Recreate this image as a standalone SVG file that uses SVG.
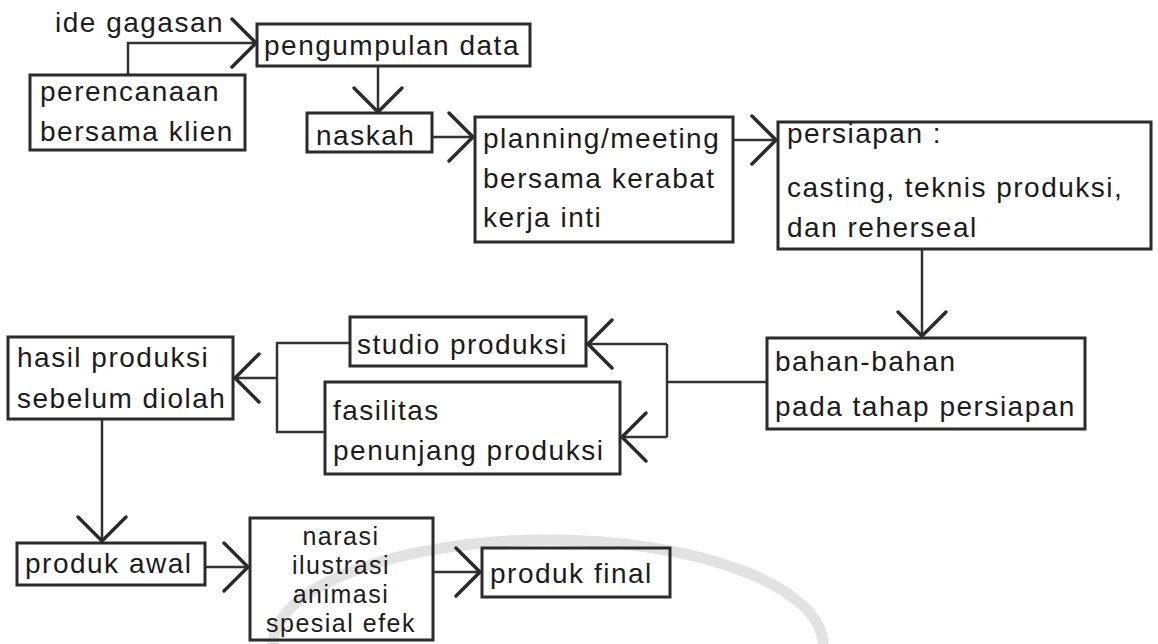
<svg xmlns="http://www.w3.org/2000/svg" width="1158" height="644" viewBox="0 0 1158 644">
<defs>
<style>
.box{fill:none;stroke:#2b2b2b;stroke-width:3}
.t{font-family:"Liberation Sans",Arial,sans-serif;font-size:28px;letter-spacing:1.5px;fill:#1c1c1c}
.s{font-size:25px}
.c{text-anchor:middle}
.ln{fill:none;stroke:#333;stroke-width:2.5}
.wm{fill:none;stroke:#e2e2e2;stroke-width:11}
</style>
<marker id="ah" markerUnits="userSpaceOnUse" markerWidth="60" markerHeight="60" viewBox="-30 -30 60 60" refX="0" refY="0" orient="auto" overflow="visible">
<path d="M -24 -24 L 0 0 L -24 24" fill="none" stroke="#2b2b2b" stroke-width="3.5" stroke-linecap="round"/>
</marker>
</defs>
<rect x="0" y="0" width="1158" height="644" fill="#fff"/>
<g id="watermark">
<ellipse class="wm" cx="548" cy="645" rx="275" ry="105"/>
</g>
<g id="connectors">
<polyline class="ln" points="128,75 128,43 256,43" marker-end="url(#ah)"/>
<line class="ln" x1="378" y1="66" x2="378" y2="112" marker-end="url(#ah)"/>
<line class="ln" x1="432" y1="137" x2="473" y2="137" marker-end="url(#ah)"/>
<line class="ln" x1="733" y1="140" x2="776" y2="140" marker-end="url(#ah)"/>
<line class="ln" x1="922" y1="249" x2="922" y2="336" marker-end="url(#ah)"/>
<line class="ln" x1="767" y1="382" x2="667" y2="382"/>
<line class="ln" x1="667" y1="344" x2="667" y2="437"/>
<line class="ln" x1="667" y1="344" x2="588" y2="344" marker-end="url(#ah)"/>
<line class="ln" x1="667" y1="437" x2="622" y2="437" marker-end="url(#ah)"/>
<polyline class="ln" points="350,343 277,343 277,432 325,432"/>
<line class="ln" x1="277" y1="378" x2="235" y2="378" marker-end="url(#ah)"/>
<line class="ln" x1="102" y1="419" x2="102" y2="541" marker-end="url(#ah)"/>
<line class="ln" x1="205" y1="567" x2="248" y2="567" marker-end="url(#ah)"/>
<line class="ln" x1="433" y1="572" x2="480" y2="572" marker-end="url(#ah)"/>
</g>
<g id="ide-gagasan">
<text class="t" x="55" y="32">ide gagasan</text>
</g>
<g id="pengumpulan-data">
<rect class="box" x="257" y="24" width="273" height="42"/>
<text class="t" x="264" y="55">pengumpulan data</text>
</g>
<g id="perencanaan">
<rect class="box" x="30" y="75" width="215" height="75"/>
<text class="t" x="40" y="101">perencanaan</text>
<text class="t" x="40" y="141">bersama klien</text>
</g>
<g id="naskah">
<rect class="box" x="307" y="113" width="125" height="39"/>
<text class="t" x="316" y="145">naskah</text>
</g>
<g id="planning">
<rect class="box" x="475" y="117" width="258" height="125"/>
<text class="t" x="483" y="148">planning/meeting</text>
<text class="t" x="483" y="188">bersama kerabat</text>
<text class="t" x="483" y="227">kerja inti</text>
</g>
<g id="persiapan">
<rect class="box" x="778" y="122" width="373" height="127"/>
<text class="t" x="787" y="143">persiapan :</text>
<text class="t" x="787" y="197">casting, teknis produksi,</text>
<text class="t" x="787" y="237">dan reherseal</text>
</g>
<g id="bahan">
<rect class="box" x="767" y="338" width="318" height="91"/>
<text class="t" x="775" y="371">bahan-bahan</text>
<text class="t" x="775" y="416">pada tahap persiapan</text>
</g>
<g id="studio">
<rect class="box" x="350" y="317" width="236" height="49"/>
<text class="t" x="357" y="354">studio produksi</text>
</g>
<g id="fasilitas">
<rect class="box" x="325" y="382" width="295" height="92"/>
<text class="t" x="333" y="420">fasilitas</text>
<text class="t" x="333" y="460">penunjang produksi</text>
</g>
<g id="hasil">
<rect class="box" x="8" y="337" width="225" height="82"/>
<text class="t" x="17" y="367">hasil produksi</text>
<text class="t" x="17" y="408">sebelum diolah</text>
</g>
<g id="produk-awal">
<rect class="box" x="17" y="543" width="188" height="42"/>
<text class="t" x="25" y="573">produk awal</text>
</g>
<g id="narasi">
<rect class="box" x="250" y="518" width="183" height="122"/>
<text class="t s c" x="341" y="545">narasi</text>
<text class="t s c" x="341" y="574">ilustrasi</text>
<text class="t s c" x="341" y="603">animasi</text>
<text class="t s c" x="341" y="632">spesial efek</text>
</g>
<g id="produk-final">
<rect class="box" x="482" y="548" width="188" height="49"/>
<text class="t" x="490" y="583">produk final</text>
</g>
</svg>
